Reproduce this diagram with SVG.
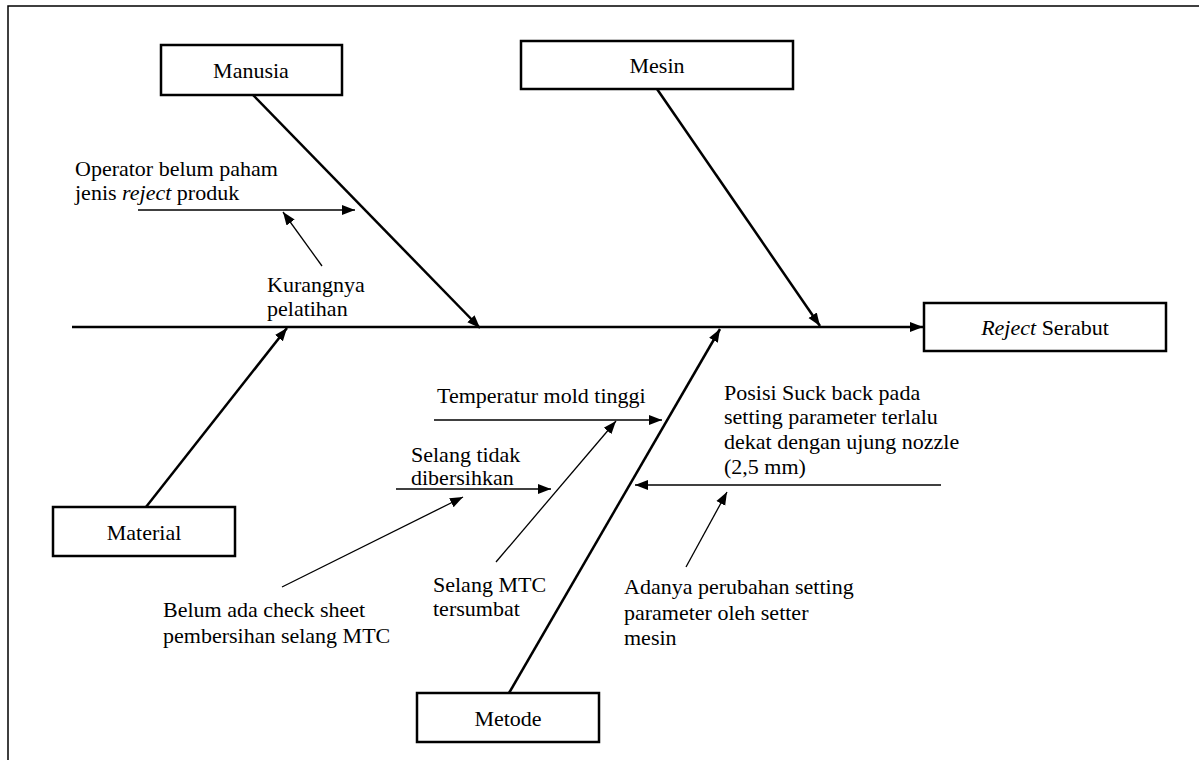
<svg xmlns="http://www.w3.org/2000/svg" width="1199" height="760" viewBox="0 0 1199 760">
<style>
text{font-family:"Liberation Serif","Times New Roman",serif;font-size:22px;fill:#000}
.box{fill:#fff;stroke:#000;stroke-width:2.5}
.bone{stroke:#000;stroke-width:2.5;fill:none}
.sub{stroke:#000;stroke-width:1.3;fill:none}
.frame{stroke:#000;stroke-width:1.5;fill:none}
</style>
<defs>
<marker id="ah" markerUnits="userSpaceOnUse" markerWidth="14" markerHeight="12" refX="13" refY="5" orient="auto" viewBox="0 0 14 10">
<path d="M0,0 L13,5 L0,10 z" fill="#000"/>
</marker>
</defs>
<rect width="1199" height="760" fill="#fff"/>
<path class="frame" d="M8,760 L8,6 L1199,6"/>

<g id="connectors">
<line class="bone" x1="72" y1="327" x2="923" y2="327" marker-end="url(#ah)"/>
<line class="bone" x1="253" y1="95" x2="480" y2="328" marker-end="url(#ah)"/>
<line class="bone" x1="657" y1="89" x2="820" y2="326" marker-end="url(#ah)"/>
<line class="bone" x1="146" y1="507" x2="287" y2="328" marker-end="url(#ah)"/>
<line class="bone" x1="509" y1="693" x2="720" y2="329" marker-end="url(#ah)"/>
<line class="sub" x1="138" y1="210" x2="355" y2="210" marker-end="url(#ah)"/>
<line class="sub" x1="322" y1="266" x2="283" y2="212" marker-end="url(#ah)"/>
<line class="sub" x1="434" y1="420" x2="662" y2="420" marker-end="url(#ah)"/>
<line class="sub" x1="396" y1="489" x2="551" y2="489" marker-end="url(#ah)"/>
<line class="sub" x1="496" y1="562" x2="616" y2="421" marker-end="url(#ah)"/>
<line class="sub" x1="282" y1="587" x2="463" y2="497" marker-end="url(#ah)"/>
<line class="sub" x1="941" y1="485" x2="635" y2="485" marker-end="url(#ah)"/>
<line class="sub" x1="686" y1="567" x2="727" y2="492" marker-end="url(#ah)"/>
</g>

<g id="manusia">
<rect class="box" x="161" y="45" width="181" height="50"/>
<text x="251" y="78" text-anchor="middle">Manusia</text>
</g>
<g id="mesin">
<rect class="box" x="521" y="41" width="272" height="48"/>
<text x="657" y="73" text-anchor="middle">Mesin</text>
</g>
<g id="reject-serabut">
<rect class="box" x="924" y="303" width="242" height="48"/>
<text x="1045" y="335" text-anchor="middle"><tspan font-style="italic">Reject</tspan> Serabut</text>
</g>
<g id="material">
<rect class="box" x="53" y="507" width="182" height="49"/>
<text x="144" y="540" text-anchor="middle">Material</text>
</g>
<g id="metode">
<rect class="box" x="417" y="693" width="182" height="49"/>
<text x="508" y="726" text-anchor="middle">Metode</text>
</g>

<g id="cause-operator">
<text x="75" y="176">Operator belum paham</text>
<text x="75" y="200">jenis <tspan font-style="italic">reject</tspan> produk</text>
</g>
<g id="cause-kurangnya">
<text x="267" y="292">Kurangnya</text>
<text x="267" y="316">pelatihan</text>
</g>
<g id="cause-temperatur">
<text x="437" y="403">Temperatur mold tinggi</text>
</g>
<g id="cause-selang-tidak">
<text x="411" y="462">Selang tidak</text>
<text x="411" y="485">dibersihkan</text>
</g>
<g id="cause-selang-mtc">
<text x="433" y="592">Selang MTC</text>
<text x="433" y="616">tersumbat</text>
</g>
<g id="cause-checksheet">
<text x="163" y="617">Belum ada check sheet</text>
<text x="163" y="643">pembersihan selang MTC</text>
</g>
<g id="cause-posisi">
<text x="724" y="400">Posisi Suck back pada</text>
<text x="724" y="424">setting parameter terlalu</text>
<text x="724" y="449">dekat dengan ujung nozzle</text>
<text x="724" y="474">(2,5 mm)</text>
</g>
<g id="cause-adanya">
<text x="624" y="594">Adanya perubahan setting</text>
<text x="624" y="620">parameter oleh setter</text>
<text x="624" y="645">mesin</text>
</g>
</svg>
